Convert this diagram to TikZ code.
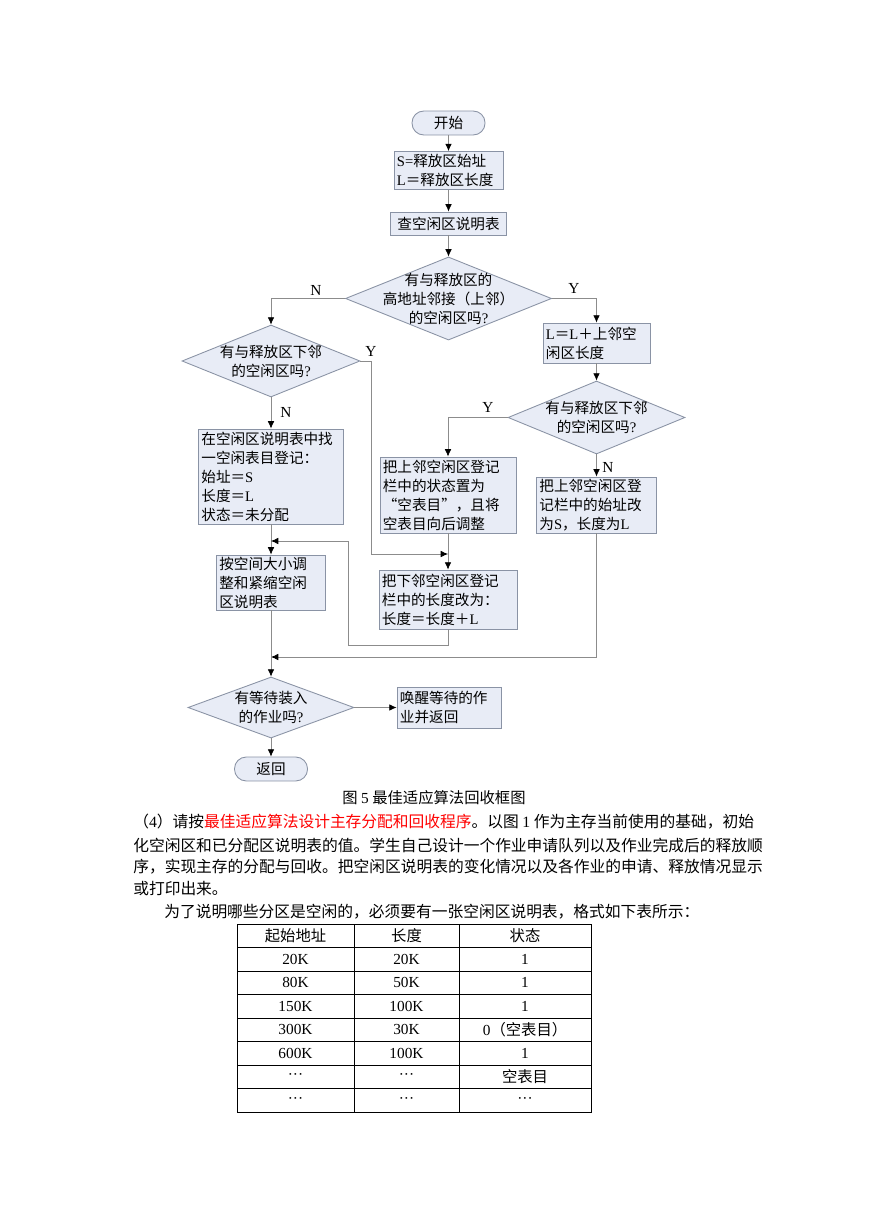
\documentclass[tikz,border=0pt]{standalone}
\usepackage{fontspec}
\setmainfont{Noto Sans CJK SC}
\newfontfamily\tnr{Liberation Serif}
\usetikzlibrary{shapes.geometric}
\usetikzlibrary{arrows.meta}
\usetikzlibrary{positioning}
\usepackage{xcolor}
\definecolor{boxfill}{HTML}{E8ECF6}
\definecolor{boxline}{HTML}{8A93A5}
\definecolor{conn}{HTML}{8C8C8C}
\tikzset{
  box/.style={draw=boxline,fill=boxfill,line width=.6pt,inner xsep=2pt,inner ysep=1pt,align=left,font=\fontsize{10}{13}\selectfont},
  term/.style={box,rounded corners=8pt,align=center},
  dec/.style={draw=boxline,fill=boxfill,line width=.6pt,shape=diamond,inner sep=0pt},
  dtxt/.style={align=center,font=\fontsize{10}{13}\selectfont},
  arr/.style={draw=conn,line width=.5pt,-{Latex[length=5pt,width=4.5pt,color=black]}},
  yn/.style={font=\tnr\fontsize{10.5}{12}\selectfont},
  para/.style={anchor=west,inner sep=0pt,font=\fontsize{10.78}{13}\selectfont},
  cell/.style={inner sep=0pt,font=\fontsize{10.5}{13}\selectfont},
  tbl/.style={line width=.6pt}
}

\begin{document}
\begin{tikzpicture}[x=0.685pt,y=-0.685pt]
\fill[white] (0,0) rectangle (869,1228);
\useasboundingbox (0,0) rectangle (869,1228);

% main column
\node[term,minimum width=50pt,minimum height=16.4pt] (start) at (448.5,123) {开始};
\node[box,text width=70.7pt,minimum height=26pt] (s) at (448.5,170.5) {{\tnr S=}释放区始址\\{\tnr L}＝释放区长度};
\node[box,align=center,minimum width=79.5pt,minimum height=15.8pt] (chk) at (448.5,223.5) {查空闲区说明表};
\node[dec,minimum width=141.1pt,minimum height=56.9pt,
  label={[dtxt]center:{有与释放区的\\高地址邻接（上邻）\\的空闲区吗{\tnr ?}}}] (d1) at (448.5,298.5) {};

% left branch
\node[dec,minimum width=121.9pt,minimum height=49.3pt,
  label={[dtxt]center:{有与释放区下邻\\的空闲区吗{\tnr ?}}}] (d2) at (271,361) {};
\node[box,text width=95.3pt,minimum height=65.1pt] (newb) at (271,476.5) {在空闲区说明表中找\\一空闲表目登记：\\始址＝{\tnr S}\\长度＝{\tnr L}\\状态＝未分配};
\node[box,text width=70.7pt,minimum height=37.7pt] (comp) at (271,582.5) {按空间大小调\\整和紧缩空闲\\区说明表};
\node[dec,minimum width=113.7pt,minimum height=41.8pt,
  label={[dtxt]center:{有等待装入\\的作业吗{\tnr ?}}}] (d4) at (271,707.5) {};
\node[box,text width=67.2pt,minimum height=28.1pt] (wake) at (449,707.5) {唤醒等待的作\\业并返回};
\node[term,minimum width=50pt,minimum height=16.4pt] (ret) at (271,769) {返回};

% right branch
\node[box,text width=69.3pt,minimum height=27.4pt] (lbox) at (596.5,343) {{\tnr L}＝{\tnr L}＋上邻空\\闲区长度};
\node[dec,minimum width=121.2pt,minimum height=50pt,
  label={[dtxt]center:{有与释放区下邻\\的空闲区吗{\tnr ?}}}] (d3) at (596.5,417.5) {};
\node[box,text width=89.2pt,minimum height=52.1pt] (upst) at (448,495) {把上邻空闲区登记\\栏中的状态置为\\“空表目”，且将\\空表目向后调整};
\node[box,text width=78.2pt,minimum height=38.4pt] (upad) at (596.5,505) {把上邻空闲区登\\记栏中的始址改\\为{\tnr S}，长度为{\tnr L}};
\node[box,text width=90.5pt,minimum height=40.4pt] (lowl) at (448,599.5) {把下邻空闲区登记\\栏中的长度改为：\\长度＝长度＋{\tnr L}};

% merge points
\coordinate (j1) at (448,554);
\coordinate (j2) at (271,541);
\coordinate (j3) at (271,657);

% connectors
\draw[arr] (start) -- (s);
\draw[arr] (s) -- (chk);
\draw[arr] (chk) -- (d1);
\draw[arr] (d1.west) -| (d2.north);
\draw[arr] (d1.east) -| (lbox.north);
\draw[arr] (lbox) -- (d3);
\draw[arr] (d2) -- (newb);
\draw[arr] (d2.east) -- ++(11,0) |- (j1);
\draw[arr] (newb) -- (comp);
\draw[arr] (d3.west) -| (upst.north);
\draw[arr] (d3) -- (upad);
\draw[arr] (upst) -- (lowl);
\draw[arr] (lowl.south) |- ++(-100,16) |- (j2);
\draw[arr] (upad.south) |- (j3);
\draw[arr] (comp) -- (d4);
\draw[arr] (d4) -- (wake);
\draw[arr] (d4) -- (ret);

% Y / N
\node[yn] (n1) at (316,290) {N};
\node[yn] (y1) at (574,288) {Y};
\node[yn] (y2) at (371,351) {Y};
\node[yn] (n2) at (286,412) {N};
\node[yn] (y3) at (488,407) {Y};
\node[yn] (n3) at (608,467) {N};

% caption and text
\node[cell] (cap) at (434,798) {图 {\tnr 5} 最佳适应算法回收框图};
\node[para] (p1) at (133,822) {（{\tnr 4}）请按\textcolor{red}{最佳适应算法设计主存分配和回收程序}。以图 {\tnr 1} 作为主存当前使用的基础，初始};
\node[para] (p2) at (133,845) {化空闲区和已分配区说明表的值。学生自己设计一个作业申请队列以及作业完成后的释放顺};
\node[para] (p3) at (133,867) {序，实现主存的分配与回收。把空闲区说明表的变化情况以及各作业的申请、释放情况显示};
\node[para] (p4) at (133,889) {或打印出来。};
\node[para] (p5) at (164,912) {为了说明哪些分区是空闲的，必须要有一张空闲区说明表，格式如下表所示：};

% table
\draw[tbl] (237,924) rectangle (591,1112);
\draw[tbl] (354,924) -- (354,1112);
\draw[tbl] (459,924) -- (459,1112);
\draw[tbl] (237,947.5) -- (591,947.5);
\draw[tbl] (237,971) -- (591,971);
\draw[tbl] (237,994.5) -- (591,994.5);
\draw[tbl] (237,1018) -- (591,1018);
\draw[tbl] (237,1041.5) -- (591,1041.5);
\draw[tbl] (237,1065) -- (591,1065);
\draw[tbl] (237,1088.5) -- (591,1088.5);

\node[cell] (h1) at (295.5,935.75) {起始地址};
\node[cell] (h2) at (406.5,935.75) {长度};
\node[cell] (h3) at (525,935.75) {状态};
\node[cell] (a1) at (295.5,959.25) {\tnr 20K};
\node[cell] (b1) at (406.5,959.25) {\tnr 20K};
\node[cell] (c1) at (525,959.25) {\tnr 1};
\node[cell] (a2) at (295.5,982.75) {\tnr 80K};
\node[cell] (b2) at (406.5,982.75) {\tnr 50K};
\node[cell] (c2) at (525,982.75) {\tnr 1};
\node[cell] (a3) at (295.5,1006.25) {\tnr 150K};
\node[cell] (b3) at (406.5,1006.25) {\tnr 100K};
\node[cell] (c3) at (525,1006.25) {\tnr 1};
\node[cell] (a4) at (295.5,1029.75) {\tnr 300K};
\node[cell] (b4) at (406.5,1029.75) {\tnr 30K};
\node[cell] (c4) at (525,1029.75) {{\tnr 0}（空表目）};
\node[cell] (a5) at (295.5,1053.25) {\tnr 600K};
\node[cell] (b5) at (406.5,1053.25) {\tnr 100K};
\node[cell] (c5) at (525,1053.25) {\tnr 1};
\node[cell] (a6) at (295.5,1076.75) {\tnr ···};
\node[cell] (b6) at (406.5,1076.75) {\tnr ···};
\node[cell] (c6) at (525,1076.75) {空表目};
\node[cell] (a7) at (295.5,1100.25) {\tnr ···};
\node[cell] (b7) at (406.5,1100.25) {\tnr ···};
\node[cell] (c7) at (525,1100.25) {\tnr ···};
\end{tikzpicture}
\end{document}
